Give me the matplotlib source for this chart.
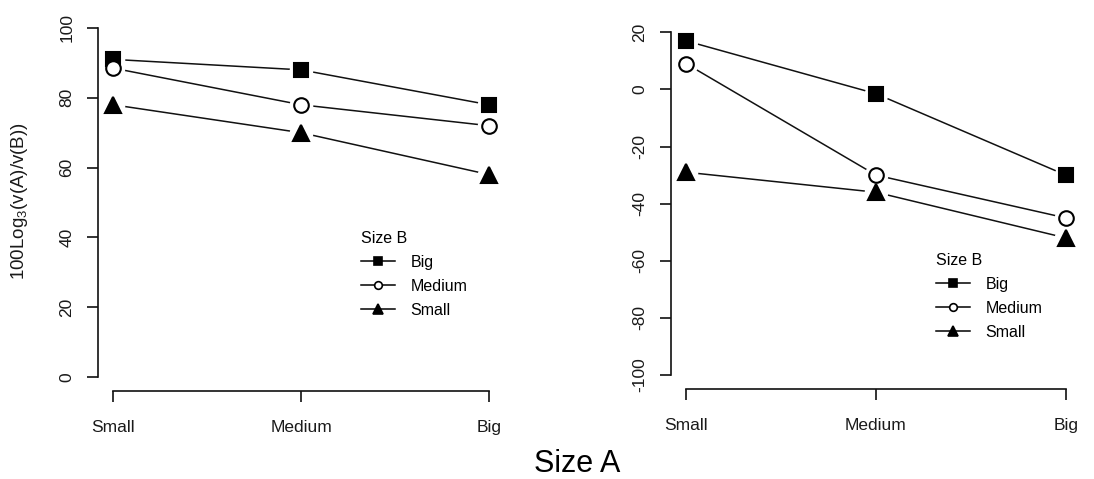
import matplotlib
matplotlib.use('Agg')
import matplotlib.pyplot as plt
from matplotlib.lines import Line2D
import numpy as np

plt.rcParams['font.family'] = ['Liberation Sans', 'DejaVu Sans']
plt.rcParams['mathtext.default'] = 'regular'

# Dados
categorias = ['Small', 'Medium', 'Big']
series = ['Big', 'Medium', 'Small']

esq_big = [91, 88, 78]
esq_medium = [88.5, 78, 72]
esq_small = [78, 70, 58]

dir_big = [17, -1.5, -30]
dir_medium = [9, -30, -45]
dir_small = [-29, -36, -52]

esq_yticks = [0, 20, 40, 60, 80, 100]
dir_yticks = [-100, -80, -60, -40, -20, 0, 20]

# estilo de cada serie: marcador, tamanho, preenchimento
estilos = {
    'Big': ('s', 10, 'black'),
    'Medium': ('o', 10.5, 'white'),
    'Small': ('^', 11, 'black'),
}
estilos_leg = {'Big': 6, 'Medium': 5.5, 'Small': 6.5}

W, H = 1094, 479
fig = plt.figure(figsize=(W / 100, H / 100), dpi=100)


def painel(caixa, dados, yticks, ylim, leg_pos):
    x0, x1, y0, y1 = caixa
    ax = fig.add_axes([x0 / W, 1 - y1 / H, (x1 - x0) / W, (y1 - y0) / H])
    x = np.arange(1, len(categorias) + 1)

    for nome, valores in zip(series, dados):
        ax.plot(x, valores, '-', color='#111111', lw=1.1, zorder=2)
        # "buraco" em volta dos pontos, como type='b' do R
        ax.plot(x, valores, 'o', ms=17, color='white', mec='none', zorder=3)
    for nome, valores in zip(series, dados):
        m, ms, fc = estilos[nome]
        ax.plot(x, valores, m, ms=ms, mfc=fc, mec='black', mew=1.5, zorder=4)

    ax.set_xlim(0.92, 3.08)
    ax.set_ylim(*ylim)
    ax.set_xticks(x)
    ax.set_xticklabels(categorias)
    ax.set_yticks(yticks)
    ax.set_yticklabels([str(v) for v in yticks])

    for s in ['top', 'right']:
        ax.spines[s].set_visible(False)
    ax.spines['left'].set_bounds(yticks[0], yticks[-1])
    ax.spines['bottom'].set_bounds(x[0], x[-1])
    for s in ['left', 'bottom']:
        ax.spines[s].set_linewidth(1.2)
        ax.spines[s].set_color('#111111')

    ax.tick_params(axis='both', direction='out', length=8, width=1.2,
                   color='#111111', labelsize=12.5, labelcolor='#1a1a1a')
    ax.tick_params(axis='x', pad=13)
    ax.tick_params(axis='y', labelrotation=90, pad=9)
    for t in ax.get_yticklabels():
        t.set_va('center')

    handles = []
    for nome in series:
        m, ms, fc = estilos[nome]
        handles.append(Line2D([], [], color='black', lw=1.1, marker=m,
                              ms=estilos_leg[nome], mfc=fc, mec='black', mew=1.2))
    lx, ly = leg_pos
    fig.legend(handles, series, title='Size B', loc='upper left',
               bbox_to_anchor=(lx / W, 1 - ly / H), frameon=False,
               fontsize=11.5, title_fontsize=11.5, handlelength=2.1,
               handletextpad=1.0, labelspacing=0.56, borderpad=0,
               borderaxespad=0, alignment='left')
    return ax


painel((98, 504, 14, 391), [esq_big, esq_medium, esq_small],
       esq_yticks, (-4, 104), (361, 231))
painel((671, 1081, 18.6, 388.7), [dir_big, dir_medium, dir_small],
       dir_yticks, (-104.8, 24.8), (936, 253))

# Descritores dos eixos
fig.text(20 / W, 1 - 201 / H, '100Log$_3$(v(A)/v(B))', rotation=90,
         ha='center', va='center', fontsize=13.5, color='#1a1a1a')
fig.text(577 / W, 1 - 464 / H, 'Size A', ha='center', va='center',
         fontsize=22, color='black')

fig.savefig('out.png', dpi=100)
